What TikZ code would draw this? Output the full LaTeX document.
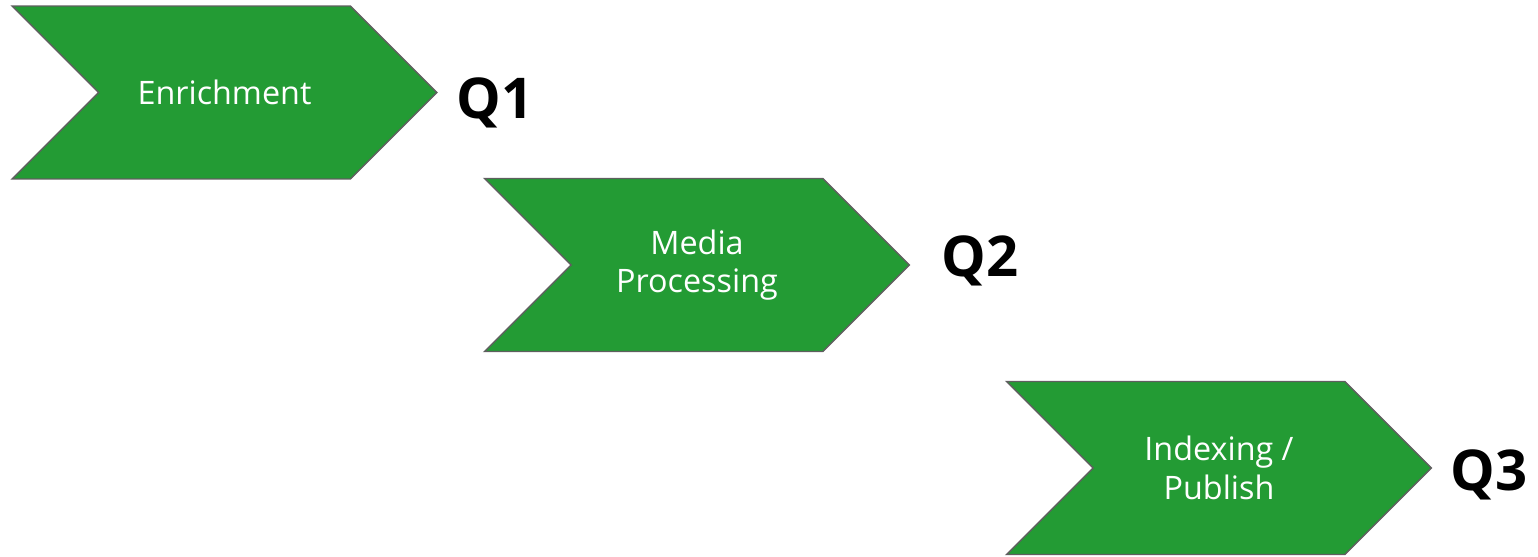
\documentclass[tikz,border=0pt]{standalone}
\usepackage{fontspec}
\setmainfont{Open Sans}
\usetikzlibrary{shapes.symbols}
\definecolor{stagegreen}{RGB}{35,155,52}
\definecolor{stageedge}{RGB}{95,95,95}

\begin{document}
\begin{tikzpicture}[
  x=0.02cm, y=-0.02cm,
  stage/.style={signal, signal from=west, signal to=east, signal pointer angle=90, fill=stagegreen, draw=stageedge, line width=0.8pt, text=white, align=center, inner sep=0pt, minimum width=8.5cm, minimum height=3.46cm, font=\fontsize{18.4}{22}\selectfont},
  quarter/.style={anchor=west, inner sep=0pt, font=\fontsize{32}{36}\selectfont\bfseries}
  ]
  \useasboundingbox (0,0) rectangle (1538,556);

  \node[stage] (enrich) at (224.5,92.5) {Enrichment};
  \node[stage] (media) at (697,265) {Media\\ Processing};
  \node[stage] (index) at (1219,468) {Indexing /\\ Publish};

  \node[quarter] (q1) at (456,103) {Q1};
  \node[quarter] (q2) at (941,261) {Q2};
  \node[quarter] (q3) at (1450,475) {Q3};

\end{tikzpicture}
\end{document}
